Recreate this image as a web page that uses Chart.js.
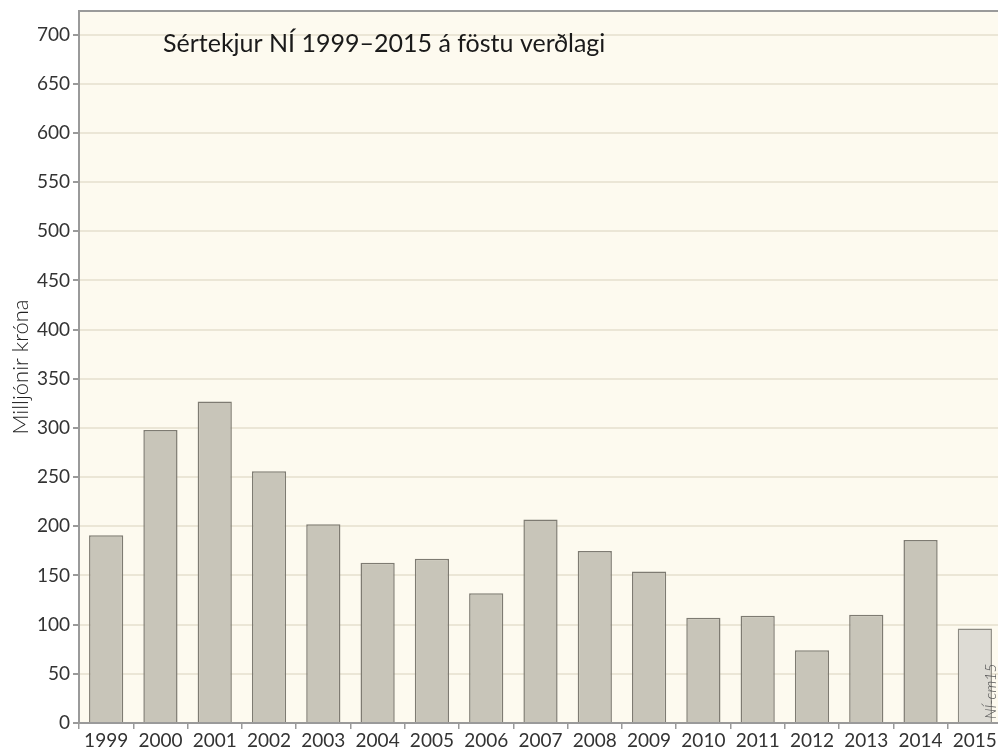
<!DOCTYPE html>
<html>
<head>
<meta charset="utf-8">
<script src="https://cdn.jsdelivr.net/npm/chart.js@4/dist/chart.umd.min.js"></script>
<style>
  html, body { margin: 0; padding: 0; background: #fff; overflow: hidden; }
  #wrap { width: 1004px; height: 751px; }
</style>
</head>
<body>
<div id="wrap"><canvas id="chart" width="1004" height="751"></canvas></div>
<script>
// Sértekjur NÍ, milljónir króna á föstu verðlagi
const years = ['1999', '2000', '2001', '2002', '2003', '2004', '2005', '2006', '2007',
    '2008', '2009', '2010', '2011', '2012', '2013', '2014', '2015'];
const revenue = [191, 298, 327, 256, 202, 163, 167, 132, 207, 175, 154, 107, 109, 74, 110, 186, 96];
const yTickStep = 25;
const yLabelStep = 50;

const titleText = 'Sértekjur NÍ 1999–2015 á föstu verðlagi';
const fontFamily = 'Lato, "Open Sans", sans-serif';

const barColors = years.map(y => y === '2015' ? '#dddbd4' : '#c8c5b9');
const barBorders = years.map(y => y === '2015' ? '#8c8a82' : '#7e7b72');

// cream plot background, top border, title and source note
const decorPlugin = {
    id: 'decor',
    beforeDraw(chart) {
        const { ctx, chartArea: a } = chart;
        ctx.save();
        ctx.fillStyle = '#fdfaef';
        ctx.fillRect(a.left, a.top, a.right - a.left, a.bottom - a.top);
        ctx.restore();
    },
    afterDraw(chart) {
        const { ctx, chartArea: a } = chart;
        ctx.save();
        ctx.strokeStyle = '#9a9a9a';
        ctx.lineWidth = 2;
        ctx.beginPath();
        ctx.moveTo(a.left, a.top);
        ctx.lineTo(a.right, a.top);
        ctx.stroke();

        ctx.fillStyle = '#1a1a1a';
        ctx.font = '25px ' + fontFamily;
        ctx.textBaseline = 'alphabetic';
        ctx.fillText(titleText, 163, 52);

        ctx.translate(991, 719);
        ctx.rotate(-Math.PI / 2);
        ctx.font = 'italic 300 15px ' + fontFamily;
        ctx.fillStyle = '#555';
        ctx.textBaseline = 'middle';
        ctx.fillText('NÍ-cm15', 0, 0);
        ctx.restore();
    }
};

new Chart(document.getElementById('chart'), {
    type: 'bar',
    data: {
        labels: years,
        datasets: [{
            label: 'Sértekjur',
            data: revenue,
            backgroundColor: barColors,
            borderColor: barBorders,
            borderWidth: 1.5,
            barPercentage: 0.63,
            categoryPercentage: 1
        }]
    },
    options: {
        responsive: false,
        animation: false,
        layout: { padding: { top: 11, right: 2, left: 0, bottom: 0 } },
        plugins: {
            legend: { display: false },
            tooltip: { enabled: false }
        },
        scales: {
            x: {
                border: { color: '#9a9a9a', width: 2 },
                grid: {
                    offset: true,
                    drawOnChartArea: false,
                    drawTicks: true,
                    tickLength: 6,
                    tickColor: '#9a9a9a',
                    lineWidth: 1.5
                },
                ticks: {
                    color: '#333',
                    font: { family: fontFamily, size: 19 },
                    padding: 0,
                    maxRotation: 0,
                    autoSkip: false
                },
                afterFit(scale) {
                    scale.height = 28;
                    scale.paddingLeft = 0;
                    scale.paddingRight = 0;
                }
            },
            y: {
                min: 0,
                max: 724,
                border: { color: '#9a9a9a', width: 2 },
                grid: {
                    color: '#ebe6d6',
                    lineWidth: 2,
                    drawTicks: true,
                    tickLength: 6,
                    tickColor: '#9a9a9a'
                },
                ticks: {
                    stepSize: yTickStep,
                    color: '#333',
                    font: { family: fontFamily, size: 19 },
                    padding: 3,
                    callback: v => (v % yLabelStep === 0 ? v : '')
                },
                afterBuildTicks(scale) {
                    scale.ticks = scale.ticks.filter(t => t.value % yTickStep === 0);
                },
                title: {
                    display: true,
                    text: 'Milljónir króna',
                    color: '#222',
                    font: { family: fontFamily, size: 22, weight: 300 },
                    padding: { top: 8, bottom: 0 }
                },
                afterFit(scale) {
                    scale.width = 79;
                    scale.paddingTop = 0;
                    scale.paddingBottom = 0;
                }
            }
        }
    },
    plugins: [decorPlugin]
});
</script>
</body>
</html>
